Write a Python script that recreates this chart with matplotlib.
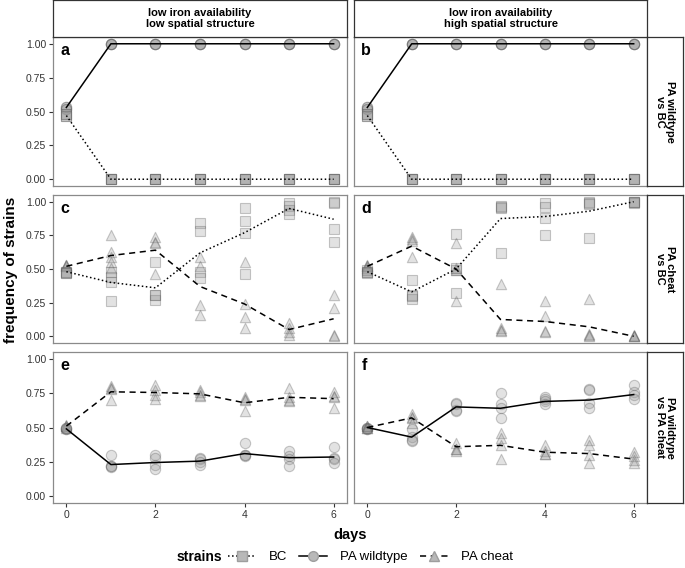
import matplotlib
matplotlib.use('Agg')
import matplotlib.pyplot as plt
from matplotlib.lines import Line2D
import numpy as np

plt.rcParams['font.family'] = ['Liberation Sans', 'DejaVu Sans']

days = [0, 1, 2, 3, 4, 5, 6]

# replicate frequencies per day (rows = days)
a_wt = [[0.52, 0.53, 0.53, 0.52], [1, 1, 1, 1], [1, 1, 1, 1], [1, 1, 1, 1],
        [1, 1, 1, 1], [1, 1, 1, 1], [1, 1, 1, 1]]
a_bc = [[0.47, 0.48, 0.47, 0.48], [0, 0, 0, 0], [0, 0, 0, 0], [0, 0, 0, 0],
        [0, 0, 0, 0], [0, 0, 0, 0], [0, 0, 0, 0]]
a_wt_mean = [0.53, 1.0, 1.0, 1.0, 1.0, 1.0, 1.0]
a_bc_mean = [0.47, 0.0, 0.0, 0.0, 0.0, 0.0, 0.0]

b_wt = [[0.52, 0.53, 0.53, 0.52], [1, 1, 1, 1], [1, 1, 1, 1], [1, 1, 1, 1],
        [1, 1, 1, 1], [1, 1, 1, 1], [1, 1, 1, 1]]
b_bc = [[0.47, 0.48, 0.47, 0.48], [0, 0, 0, 0], [0, 0, 0, 0], [0, 0, 0, 0],
        [0, 0, 0, 0], [0, 0, 0, 0], [0, 0, 0, 0]]
b_wt_mean = [0.53, 1.0, 1.0, 1.0, 1.0, 1.0, 1.0]
b_bc_mean = [0.47, 0.0, 0.0, 0.0, 0.0, 0.0, 0.0]

c_ch = [[0.52, 0.53, 0.52, 0.53], [0.75, 0.63, 0.59, 0.55, 0.51],
        [0.74, 0.70, 0.69, 0.46], [0.59, 0.52, 0.23, 0.16],
        [0.55, 0.24, 0.14, 0.06], [0.10, 0.06, 0.03, 0.01],
        [0.31, 0.21, 0.01, 0.00]]
c_bc = [[0.48, 0.47, 0.48, 0.47], [0.26, 0.40, 0.44, 0.48],
        [0.55, 0.31, 0.27, 0.31], [0.84, 0.78, 0.48, 0.43],
        [0.95, 0.86, 0.77, 0.46], [0.99, 0.97, 0.94, 0.91],
        [1.00, 0.99, 0.80, 0.70]]
c_ch_mean = [0.52, 0.60, 0.64, 0.37, 0.24, 0.05, 0.13]
c_bc_mean = [0.48, 0.40, 0.36, 0.62, 0.77, 0.95, 0.87]

d_ch = [[0.52, 0.53, 0.51, 0.52], [0.74, 0.72, 0.71, 0.59],
        [0.69, 0.51, 0.49, 0.26], [0.39, 0.06, 0.05, 0.04],
        [0.26, 0.15, 0.04, 0.03], [0.28, 0.02, 0.01, 0.00],
        [0.01, 0.00, 0.00, 0.00]]
d_bc = [[0.48, 0.47, 0.49, 0.48], [0.42, 0.31, 0.28, 0.30],
        [0.76, 0.51, 0.49, 0.32], [0.97, 0.95, 0.96, 0.62],
        [0.99, 0.96, 0.88, 0.75], [1.00, 0.99, 0.98, 0.73],
        [1.00, 1.00, 0.99, 1.00]]
d_ch_mean = [0.52, 0.67, 0.50, 0.125, 0.11, 0.07, 0.00]
d_bc_mean = [0.48, 0.33, 0.50, 0.875, 0.89, 0.93, 1.00]

e_ch = [[0.51, 0.52, 0.50, 0.51], [0.80, 0.79, 0.78, 0.70],
        [0.81, 0.77, 0.74, 0.71], [0.77, 0.76, 0.74, 0.73],
        [0.72, 0.71, 0.70, 0.62], [0.79, 0.72, 0.70, 0.69],
        [0.76, 0.73, 0.72, 0.64]]
e_wt = [[0.49, 0.50, 0.49, 0.50], [0.30, 0.22, 0.22, 0.21],
        [0.30, 0.28, 0.23, 0.20], [0.28, 0.27, 0.25, 0.23],
        [0.39, 0.30, 0.30, 0.29], [0.33, 0.29, 0.27, 0.22],
        [0.36, 0.28, 0.27, 0.24]]
e_ch_mean = [0.51, 0.76, 0.755, 0.745, 0.68, 0.72, 0.71]
e_wt_mean = [0.49, 0.23, 0.245, 0.255, 0.31, 0.28, 0.285]

f_wt = [[0.49, 0.50, 0.50, 0.49], [0.49, 0.43, 0.41, 0.40],
        [0.68, 0.67, 0.63, 0.62], [0.75, 0.67, 0.64, 0.57],
        [0.72, 0.71, 0.69, 0.67], [0.78, 0.77, 0.68, 0.64],
        [0.81, 0.76, 0.74, 0.71]]
f_ch = [[0.51, 0.50, 0.51, 0.50], [0.60, 0.58, 0.57, 0.53],
        [0.39, 0.34, 0.33, 0.34], [0.46, 0.42, 0.37, 0.27],
        [0.37, 0.33, 0.31, 0.31], [0.41, 0.37, 0.30, 0.24],
        [0.32, 0.29, 0.26, 0.24]]
f_wt_mean = [0.50, 0.43, 0.65, 0.64, 0.69, 0.70, 0.74]
f_ch_mean = [0.50, 0.57, 0.36, 0.37, 0.32, 0.31, 0.27]

col_labels = ['low iron availability\nlow spatial structure',
              'low iron availability\nhigh spatial structure']
row_labels = ['PA wildtype\nvs BC', 'PA cheat\nvs BC', 'PA wildtype\nvs PA cheat']
panel_letters = ['a', 'b', 'c', 'd', 'e', 'f']

style = {'BC': dict(marker='s', ls=':'),
         'PA wildtype': dict(marker='o', ls='-'),
         'PA cheat': dict(marker='^', ls=(0, (4, 3)))}

panels = [
    [('PA wildtype', a_wt, a_wt_mean), ('BC', a_bc, a_bc_mean)],
    [('PA wildtype', b_wt, b_wt_mean), ('BC', b_bc, b_bc_mean)],
    [('PA cheat', c_ch, c_ch_mean), ('BC', c_bc, c_bc_mean)],
    [('PA cheat', d_ch, d_ch_mean), ('BC', d_bc, d_bc_mean)],
    [('PA cheat', e_ch, e_ch_mean), ('PA wildtype', e_wt, e_wt_mean)],
    [('PA wildtype', f_wt, f_wt_mean), ('PA cheat', f_ch, f_ch_mean)],
]

W, H = 685, 568
fig = plt.figure(figsize=(W / 100, H / 100), dpi=100)


def box(x0, y0, x1, y1):
    return [x0 / W, 1 - y1 / H, (x1 - x0) / W, (y1 - y0) / H]


cols = [(53, 347), (354, 647)]
rows = [(37, 186), (195, 343), (352, 503)]
face = (0.6, 0.6, 0.6, 0.28)
edge = (0.35, 0.35, 0.35, 0.32)

for i in range(3):
    for j in range(2):
        k = i * 2 + j
        ax = fig.add_axes(box(cols[j][0], rows[i][0], cols[j][1], rows[i][1]))
        for name, reps, mean in panels[k]:
            st = style[name]
            xs = [d for d, r in zip(days, reps) for _ in r]
            ys = [v for r in reps for v in r]
            ax.scatter(xs, ys, marker=st['marker'], s=55, facecolor=face,
                       edgecolor=edge, linewidth=0.8, zorder=2)
            ax.plot(days, mean, color='black', ls=st['ls'], lw=1.1, zorder=3)
        ax.set_xlim(-0.3, 6.3)
        ax.set_ylim(-0.05, 1.05)
        ax.set_xticks([0, 2, 4, 6])
        ax.set_yticks([0, 0.25, 0.5, 0.75, 1.0])
        ax.set_yticklabels(['0.00', '0.25', '0.50', '0.75', '1.00'])
        ax.tick_params(length=3, width=0.8, color='#333333', labelsize=7.5,
                       labelcolor='#333333', pad=2)
        if j == 1:
            ax.tick_params(labelleft=False, left=False)
        if i < 2:
            ax.tick_params(labelbottom=False, bottom=False)
        for sp in ax.spines.values():
            sp.set_color('#8a8a8a')
            sp.set_linewidth(0.9)
        ax.text(0.025, 0.96, panel_letters[k], transform=ax.transAxes,
                fontsize=11.5, fontweight='bold', va='top', ha='left')

# column strips
for j in range(2):
    s = fig.add_axes(box(cols[j][0], 0, cols[j][1], 37))
    s.set_xticks([]); s.set_yticks([])
    for sp in s.spines.values():
        sp.set_color('#333333'); sp.set_linewidth(0.9)
    s.text(0.5, 0.5, col_labels[j], ha='center', va='center', fontsize=8,
           fontweight='bold', linespacing=1.05, transform=s.transAxes)

# row strips
for i in range(3):
    s = fig.add_axes(box(647, rows[i][0], 683, rows[i][1]))
    s.set_xticks([]); s.set_yticks([])
    for sp in s.spines.values():
        sp.set_color('#333333'); sp.set_linewidth(0.9)
    s.text(0.5, 0.5, row_labels[i], ha='center', va='center', fontsize=8,
           fontweight='bold', rotation=-90, linespacing=1.05,
           transform=s.transAxes)

fig.text(11 / W, 1 - 270 / H, 'frequency of strains', rotation=90,
         ha='center', va='center', fontsize=11, fontweight='bold')
fig.text(350 / W, 1 - 535 / H, 'days', ha='center', va='center',
         fontsize=10.5, fontweight='bold')

handles = []
for name in ['BC', 'PA wildtype', 'PA cheat']:
    st = style[name]
    handles.append(Line2D([], [], color='black', ls=st['ls'], lw=1.1,
                          marker=st['marker'], markersize=7,
                          markerfacecolor=(0.72, 0.72, 0.72),
                          markeredgecolor=(0.62, 0.62, 0.62)))
fig.text(222 / W, 1 - 557 / H, 'strains', ha='right', va='center',
         fontsize=10, fontweight='bold')
fig.legend(handles, ['BC', 'PA wildtype', 'PA cheat'], loc='center left',
           bbox_to_anchor=(219 / W, 1 - 557 / H), ncol=3, frameon=False,
           fontsize=9.5, handlelength=2.1, columnspacing=0.9, handletextpad=1.0,
           borderpad=0.2)

plt.savefig('out.png', dpi=100)
